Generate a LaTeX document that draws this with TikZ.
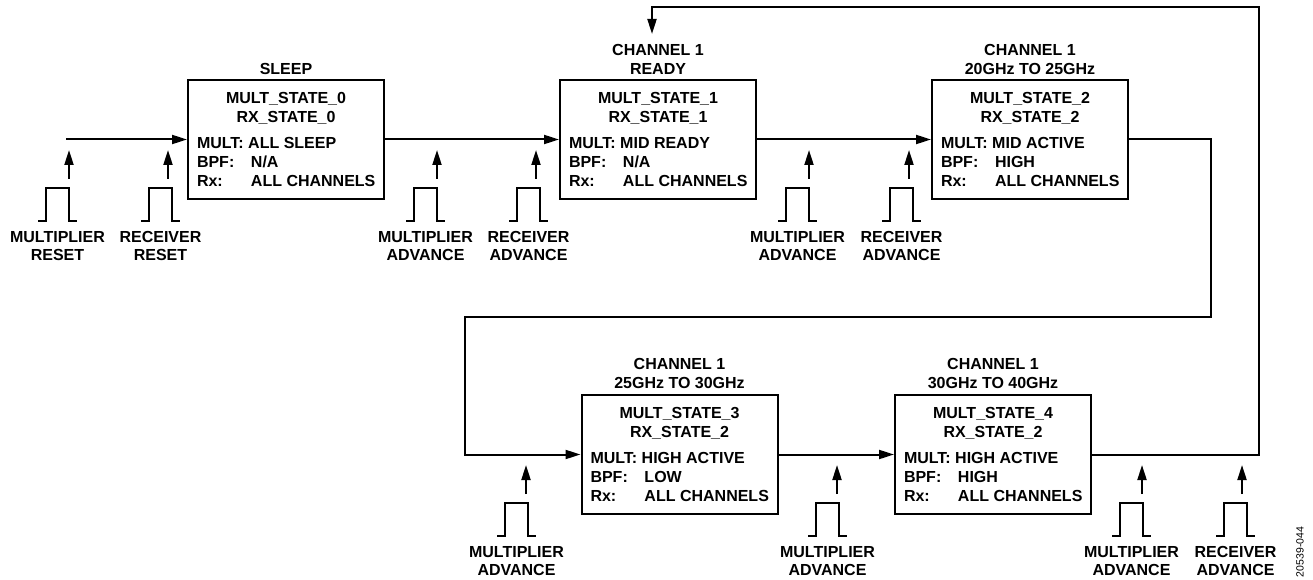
\documentclass[tikz,border=0pt]{standalone}
\usepackage{fontspec}
\setmainfont{Liberation Sans}
\usetikzlibrary{arrows.meta,positioning}
\tikzset{
  wire/.style={line width=2pt, line join=miter},
  flow/.style={wire, -{Triangle[length=15pt,width=9pt]}},
  statebox/.style={draw, line width=2pt, minimum width=196pt, minimum height=119pt, inner sep=0pt, font=\bfseries\fontsize{16}{19}\selectfont},
  toplbl/.style={align=center, inner sep=0pt, font=\bfseries\fontsize{16}{19.5}\selectfont},
  siglbl/.style={align=center, inner sep=0pt, font=\bfseries\fontsize{16}{18}\selectfont, anchor=north},
}
\newcommand{\boxtext}[5]{\parbox{178pt}{\centering #1\\#2\par\vspace{7pt}\raggedright\mbox{MULT: #3}\\\mbox{\makebox[54pt][l]{BPF:}#4}\\\mbox{\makebox[54pt][l]{Rx:}#5}}}
\newcommand{\pulsesig}[5]{%
  \draw[wire] (#2-31,#3) -- (#2-23,#3) -- (#2-23,#3-33) -- (#2,#3-33) -- (#2,#3) -- (#2+8,#3);
  \coordinate (#1a) at (#4,#3-42);
  \coordinate (#1b) at (#4,#3-71);
  \draw[flow] (#1a) -- (#1b);
  \node[siglbl] (#1l) at (#2-11.5,#3+10.5) {#5};
}
\begin{document}
\begin{tikzpicture}[x=1pt,y=-1pt]
\useasboundingbox (0,0) rectangle (1313,580);

% state boxes
\node[statebox] (b1) at (286,139.5) {\boxtext{MULT\_STATE\_0}{RX\_STATE\_0}{ALL SLEEP}{N/A}{ALL CHANNELS}};
\node[statebox] (b2) at (658,139.5) {\boxtext{MULT\_STATE\_1}{RX\_STATE\_1}{MID READY}{N/A}{ALL CHANNELS}};
\node[statebox] (b3) at (1030,139.5) {\boxtext{MULT\_STATE\_2}{RX\_STATE\_2}{MID ACTIVE}{HIGH}{ALL CHANNELS}};
\node[statebox] (b4) at (679.5,454.5) {\boxtext{MULT\_STATE\_3}{RX\_STATE\_2}{HIGH ACTIVE}{LOW}{ALL CHANNELS}};
\node[statebox] (b5) at (993,454.5) {\boxtext{MULT\_STATE\_4}{RX\_STATE\_2}{HIGH ACTIVE}{HIGH}{ALL CHANNELS}};

% titles above boxes
\node[toplbl, above=4pt of b1] (t1) {SLEEP};
\node[toplbl, above=4pt of b2] (t2) {CHANNEL 1\\READY};
\node[toplbl, above=4pt of b3] (t3) {CHANNEL 1\\20GHz TO 25GHz};
\node[toplbl, above=5pt of b4] (t4) {CHANNEL 1\\25GHz TO 30GHz};
\node[toplbl, above=5pt of b5] (t5) {CHANNEL 1\\30GHz TO 40GHz};

% flow connectors
\coordinate (s0) at (66,139.5);
\coordinate (c1) at (1211,317);
\coordinate (c2) at (465,317);
\coordinate (c3) at (1259,7);
\coordinate (c4) at (652,34);
\draw[flow] (s0) -- (b1.west);
\draw[flow] (b1.east) -- (b2.west);
\draw[flow] (b2.east) -- (b3.west);
\draw[flow] (b3.east) -| (c1) -- (c2) |- (b4.west);
\draw[flow] (b4.east) -- (b5.west);
\draw[flow] (b5.east) -| (c3) -| (c4);

% pulses, row 1
\pulsesig{p1}{69}{221}{69}{MULTIPLIER\\RESET}
\pulsesig{p2}{172}{221}{168}{RECEIVER\\RESET}
\pulsesig{p3}{437}{221}{437}{MULTIPLIER\\ADVANCE}
\pulsesig{p4}{540}{221}{536}{RECEIVER\\ADVANCE}
\pulsesig{p5}{809}{221}{809}{MULTIPLIER\\ADVANCE}
\pulsesig{p6}{913}{221}{909}{RECEIVER\\ADVANCE}
% pulses, row 2
\pulsesig{p7}{528}{536}{526}{MULTIPLIER\\ADVANCE}
\pulsesig{p8}{839}{536}{837}{MULTIPLIER\\ADVANCE}
\pulsesig{p9}{1143}{536}{1142}{MULTIPLIER\\ADVANCE}
\pulsesig{p10}{1247}{536}{1242}{RECEIVER\\ADVANCE}

\node[rotate=90, inner sep=0pt, font=\fontsize{10.5}{12}\selectfont] (fid) at (1300,552) {20539-044};
\end{tikzpicture}
\end{document}
